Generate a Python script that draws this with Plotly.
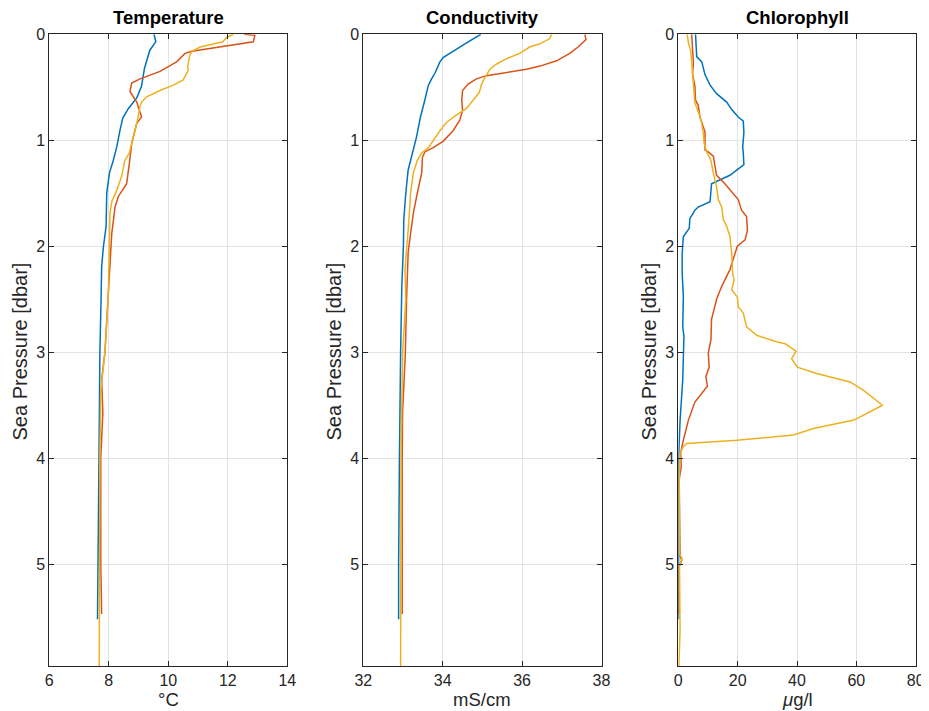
import plotly.graph_objects as go

# ---------------- data ----------------
temp_blue_p = [0, 0.07, 0.15, 0.27, 0.32, 0.49, 0.60, 0.70, 0.79, 0.90, 1.06, 1.19, 1.31, 1.50, 1.81, 2.0, 2.19, 2.5, 3.0, 4.0, 5.0, 5.52]
temp_blue_v = [9.52, 9.58, 9.38, 9.27, 9.2, 9.1, 8.94, 8.66, 8.47, 8.38, 8.27, 8.15, 8.02, 7.93, 7.91, 7.82, 7.76, 7.74, 7.70, 7.67, 7.63, 7.62]

temp_red_p = [0, 0.01, 0.07, 0.16, 0.18, 0.26, 0.35, 0.42, 0.46, 0.54, 0.64, 0.78, 0.84, 1.03, 1.22, 1.41, 1.53, 1.63, 1.88, 2.19, 2.5, 3.0, 3.26, 3.57, 4.0, 5.0, 5.47]
temp_red_v = [12.55, 12.91, 12.86, 10.79, 10.56, 10.28, 9.72, 9.05, 8.77, 8.71, 8.94, 9.1, 8.94, 8.77, 8.69, 8.6, 8.32, 8.21, 8.10, 8.04, 7.98, 7.87, 7.76, 7.8, 7.73, 7.73, 7.76]

temp_yel_p = [0, 0.03, 0.07, 0.12, 0.16, 0.21, 0.31, 0.34, 0.43, 0.48, 0.53, 0.59, 0.64, 0.68, 0.84, 0.97, 1.12, 1.19, 1.34, 1.47, 1.58, 1.69, 2.0, 2.5, 3.0, 3.36, 4.0, 5.0, 5.96]
temp_yel_v = [12.19, 11.96, 11.83, 11.07, 10.79, 10.71, 10.65, 10.67, 10.5, 10.17, 9.72, 9.27, 9.1, 9.05, 8.94, 8.82, 8.69, 8.54, 8.43, 8.27, 8.10, 8.04, 8.01, 7.98, 7.87, 7.73, 7.70, 7.70, 7.68]

cond_blue_p = [0, 0.04, 0.09, 0.15, 0.22, 0.26, 0.37, 0.42, 0.48, 0.62, 0.78, 0.97, 1.12, 1.22, 1.28, 1.50, 1.75, 2.0, 2.38, 3.0, 3.57, 4.0, 5.0, 5.52]
cond_blue_v = [34.96, 34.77, 34.56, 34.31, 34.01, 33.93, 33.80, 33.72, 33.64, 33.55, 33.44, 33.34, 33.24, 33.17, 33.13, 33.07, 33.02, 33.01, 32.97, 32.94, 32.92, 32.91, 32.89, 32.89]

cond_red_p = [0, 0.05, 0.12, 0.18, 0.25, 0.30, 0.33, 0.36, 0.39, 0.42, 0.47, 0.53, 0.62, 0.72, 0.81, 0.91, 1.01, 1.07, 1.11, 1.16, 1.31, 1.50, 1.69, 1.94, 2.06, 2.5, 3.0, 3.57, 4.0, 5.0, 5.47]
cond_red_v = [37.58, 37.61, 37.41, 37.2, 36.87, 36.45, 36.11, 35.61, 35.10, 34.85, 34.64, 34.50, 34.48, 34.50, 34.43, 34.26, 34.01, 33.76, 33.55, 33.49, 33.47, 33.36, 33.26, 33.17, 33.13, 33.09, 33.06, 32.99, 32.98, 32.98, 32.98]

cond_yel_p = [0, 0.04, 0.09, 0.12, 0.18, 0.23, 0.28, 0.33, 0.41, 0.47, 0.55, 0.62, 0.70, 0.76, 0.83, 0.91, 0.99, 1.07, 1.12, 1.19, 1.31, 1.50, 1.75, 2.06, 2.22, 2.5, 3.0, 4.0, 5.0, 5.96]
cond_yel_v = [36.74, 36.70, 36.45, 36.19, 35.94, 35.61, 35.36, 35.19, 35.06, 34.98, 34.92, 34.77, 34.60, 34.35, 34.10, 33.93, 33.78, 33.64, 33.47, 33.36, 33.26, 33.19, 33.15, 33.09, 33.05, 33.07, 32.99, 32.95, 32.94, 32.94]

chl_blue_p = [0, 0.21, 0.26, 0.38, 0.48, 0.56, 0.64, 0.71, 0.78, 0.82, 0.93, 1.06, 1.12, 1.23, 1.33, 1.41, 1.58, 1.63, 1.66, 1.74, 1.83, 1.91, 2.07, 2.25, 2.47, 2.76, 2.85, 3.26, 3.64, 3.89, 4.0, 5.0, 5.52]
chl_blue_v = [5.8, 6.2, 7.9, 9.0, 10.7, 12.9, 16.3, 18.0, 20.2, 21.9, 22.1, 21.7, 21.9, 22.1, 17.4, 11.2, 10.7, 6.7, 5.6, 3.9, 3.7, 1.7, 1.3, 1.3, 1.7, 1.5, 1.9, 1.5, 0.6, 0.2, 0.1, 0.1, 0.1]

chl_red_p = [0, 0.12, 0.27, 0.37, 0.49, 0.62, 0.67, 0.78, 0.87, 0.92, 1.04, 1.09, 1.11, 1.15, 1.25, 1.33, 1.41, 1.50, 1.56, 1.66, 1.72, 1.85, 1.94, 2.0, 2.07, 2.22, 2.38, 2.5, 2.69, 2.88, 3.01, 3.14, 3.23, 3.32, 3.47, 3.64, 3.83, 3.95, 4.08, 4.2, 4.93, 4.96, 5.02, 5.47]
chl_red_v = [4.5, 4.8, 5.1, 4.8, 5.6, 5.8, 6.7, 7.3, 8.4, 9.0, 9.0, 9.0, 10.1, 11.8, 12.4, 12.9, 15.7, 18.5, 20.2, 21.3, 23.0, 23.3, 22.5, 19.9, 19.1, 17.4, 14.6, 12.9, 11.2, 11.0, 10.1, 10.4, 9.3, 9.8, 5.6, 3.4, 1.7, 0.8, 1.0, 0.3, 0.6, 1.2, 0.3, 0.2]

chl_yel_p = [0, 0.08, 0.16, 0.27, 0.40, 0.53, 0.65, 0.76, 0.84, 0.93, 1.03, 1.11, 1.19, 1.31, 1.44, 1.56, 1.63, 1.75, 1.81, 1.91, 2.07, 2.25, 2.32, 2.41, 2.48, 2.57, 2.63, 2.76, 2.84, 2.90, 2.92, 2.99, 3.06, 3.14, 3.20, 3.28, 3.36, 3.50, 3.64, 3.72, 3.78, 3.83, 3.86, 3.89, 3.95, 4.2, 4.9, 4.95, 5.0, 5.62, 5.96]
chl_yel_v = [3.0, 3.4, 4.2, 4.5, 4.7, 5.1, 5.6, 7.1, 7.9, 8.4, 8.7, 9.6, 11.0, 11.8, 12.9, 13.5, 14.6, 15.2, 16.3, 17.4, 18.0, 18.3, 18.8, 18.0, 19.9, 20.2, 21.9, 23.0, 26.4, 33.1, 36.0, 39.7, 38.2, 40.1, 46.6, 57.9, 62.4, 68.8, 59.2, 45.5, 38.8, 19.7, 2.8, 1.7, 0.6, 0.3, 0.4, 1.3, 0.4, 0.6, 0.2]

titles = ["Temperature", "Conductivity", "Chlorophyll"]
x_labels = ["°C", "mS/cm", "<i>μ</i>g/l"]
x_ranges = [[6, 14], [32, 38], [0, 80]]
x_ticks = [[6, 8, 10, 12, 14], [32, 34, 36, 38], [0, 20, 40, 60, 80]]
y_ticks = [0, 1, 2, 3, 4, 5]
y_label = "Sea Pressure [dbar]"
p_max = 5.96

colors = ["#0072BD", "#D95319", "#EDB120"]

panels = [
    [(temp_blue_v, temp_blue_p), (temp_red_v, temp_red_p), (temp_yel_v, temp_yel_p)],
    [(cond_blue_v, cond_blue_p), (cond_red_v, cond_red_p), (cond_yel_v, cond_yel_p)],
    [(chl_blue_v, chl_blue_p), (chl_red_v, chl_red_p), (chl_yel_v, chl_yel_p)],
]

# ---------------- layout geometry (pixels in the 929x711 window) ----------------
OFF = 8  # page body margin
W, H = 929 - OFF, 711 - OFF
left_px = [49.3, 363.3, 678.3]
right_px = [287.3, 601.5, 915.7]
top_px, bottom_px = 34.3, 666.0


def px_x(px):
    return (px - OFF) / W


def px_y(py):
    return 1 - (py - OFF) / H


fig = go.Figure()
font_family = "Liberation Sans, Arial, Helvetica, sans-serif"
axcol = "#262626"

for i, series in enumerate(panels):
    xa = "x" if i == 0 else f"x{i+1}"
    ya = "y" if i == 0 else f"y{i+1}"
    for (v, p), c in zip(series, colors):
        fig.add_trace(go.Scatter(x=v, y=p, mode="lines", xaxis=xa, yaxis=ya,
                                 line=dict(color=c, width=1.5), showlegend=False,
                                 hoverinfo="skip"))
    axcommon = dict(showline=True, linecolor=axcol, linewidth=1, mirror="allticks",
                    ticks="inside", ticklen=5, tickcolor=axcol, automargin=False,
                    showgrid=True, gridcolor="#e3e3e3", gridwidth=1,
                    zeroline=False, tickfont=dict(size=16, color=axcol, family=font_family))
    xkey = "xaxis" if i == 0 else f"xaxis{i+1}"
    ykey = "yaxis" if i == 0 else f"yaxis{i+1}"
    fig.update_layout({
        xkey: dict(domain=[px_x(left_px[i]), px_x(right_px[i])], range=x_ranges[i],
                   tickvals=x_ticks[i], anchor=ya, **axcommon),
        ykey: dict(domain=[px_y(bottom_px), px_y(top_px)], range=[p_max, 0],
                   tickvals=y_ticks, anchor=xa, **axcommon),
    })
    cx = px_x((left_px[i] + right_px[i]) / 2)
    fig.add_annotation(text=f"<b>{titles[i]}</b>", x=cx, y=px_y(17.5), xref="paper", yref="paper",
                       xanchor="center", yanchor="middle", showarrow=False,
                       font=dict(size=18.5, color="#000000", family=font_family))
    fig.add_annotation(text=x_labels[i], x=cx, y=px_y(699), xref="paper", yref="paper",
                       xanchor="center", yanchor="middle", showarrow=False,
                       font=dict(size=18.5, color=axcol, family=font_family))
    fig.add_annotation(text=y_label, x=px_x(left_px[i] - 29.8), y=px_y(352),
                       xref="paper", yref="paper", xanchor="center", yanchor="middle",
                       textangle=-90, showarrow=False,
                       font=dict(size=20, color=axcol, family=font_family))

fig.update_layout(width=W, height=H, margin=dict(l=0, r=0, t=0, b=0, pad=0, autoexpand=False),
                  paper_bgcolor="white", plot_bgcolor="white",
                  font=dict(family=font_family))

fig.write_html("out.html")
